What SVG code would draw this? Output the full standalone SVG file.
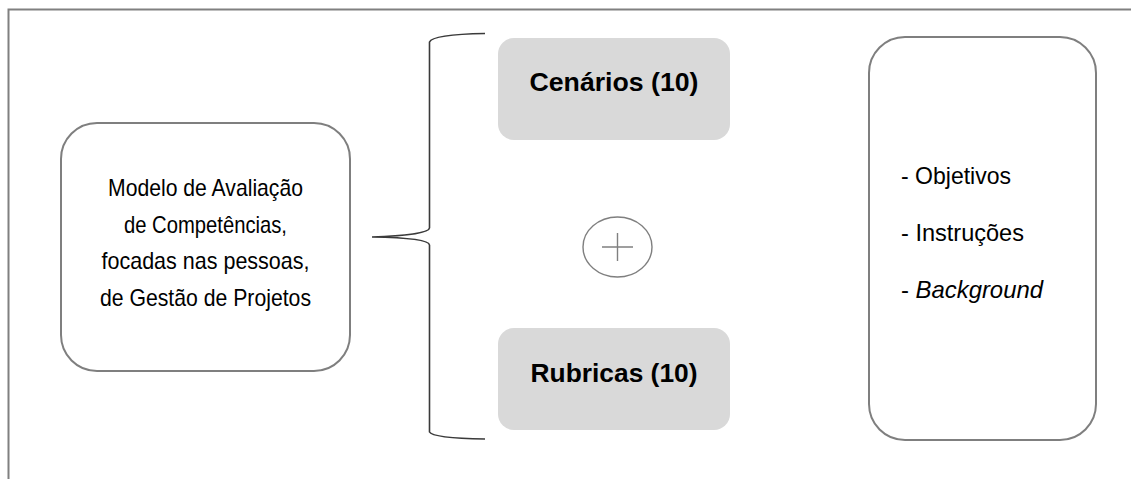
<svg xmlns="http://www.w3.org/2000/svg" width="1131" height="479" viewBox="0 0 1131 479">
<style>
.frame{fill:none;stroke:#808080;stroke-width:2}
.box{fill:#fff;stroke:#7f7f7f;stroke-width:2}
.grey{fill:#d9d9d9;stroke:none}
.t{font-family:"Liberation Sans",Arial,sans-serif;font-size:24px;fill:#000}
.b{font-family:"Liberation Sans",Arial,sans-serif;font-size:26px;font-weight:bold;fill:#000}
.brace{fill:none;stroke:#3a3a3a;stroke-width:1.6}
.plus{fill:none;stroke:#808080;stroke-width:1.4}
</style>
<rect width="1131" height="479" fill="#fff"/>
<path class="frame" d="M8.5,479 V9.5 H1131"/>
<g id="modelo">
<rect class="box" x="61" y="123" width="289" height="248" rx="36" ry="36"/>
<text class="t" x="205.5" y="196" text-anchor="middle" textLength="195" lengthAdjust="spacingAndGlyphs">Modelo de Avaliação</text>
<text class="t" x="205.5" y="233" text-anchor="middle" textLength="163" lengthAdjust="spacingAndGlyphs">de Competências,</text>
<text class="t" x="205.5" y="269" text-anchor="middle" textLength="208" lengthAdjust="spacingAndGlyphs">focadas nas pessoas,</text>
<text class="t" x="205.5" y="306" text-anchor="middle" textLength="211" lengthAdjust="spacingAndGlyphs">de Gestão de Projetos</text>
</g>
<g id="connectors">
<path class="brace" d="M485,33.5 C455,34 432,36 429.5,42 L429.5,228 C429,233 405,236 372,237 C405,237.5 429,240 429.5,245 L429.5,432 C432,437 455,438.5 485,439"/>
</g>
<g id="cenarios">
<rect class="grey" x="498" y="38" width="232" height="102" rx="16" ry="16"/>
<text class="b" x="614" y="91" text-anchor="middle" textLength="169" lengthAdjust="spacingAndGlyphs">Cenários (10)</text>
</g>
<g id="mais">
<ellipse cx="617.5" cy="247" rx="34.5" ry="30" fill="#fff" stroke="#7f7f7f" stroke-width="1.4"/>
<path class="plus" d="M602,247 H633 M617.5,233 V261"/>
</g>
<g id="rubricas">
<rect class="grey" x="498" y="328" width="232" height="102" rx="16" ry="16"/>
<text class="b" x="614" y="382" text-anchor="middle" textLength="167" lengthAdjust="spacingAndGlyphs">Rubricas (10)</text>
</g>
<g id="info">
<rect class="box" x="869" y="37" width="227" height="403" rx="36" ry="36"/>
<text class="t" x="901" y="184" textLength="110" lengthAdjust="spacingAndGlyphs">- Objetivos</text>
<text class="t" x="901" y="241" textLength="123" lengthAdjust="spacingAndGlyphs">- Instruções</text>
<text class="t" x="901" y="298" textLength="142" lengthAdjust="spacingAndGlyphs">- <tspan font-style="italic">Background</tspan></text>
</g>
</svg>
